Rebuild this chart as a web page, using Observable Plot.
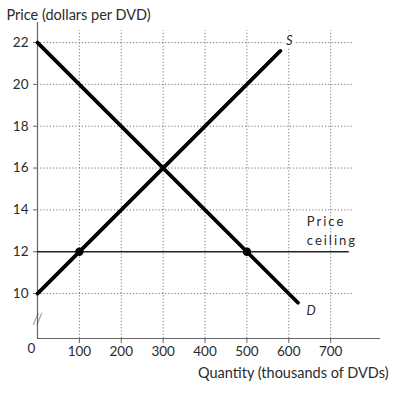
<!DOCTYPE html>
<html>
<head>
<meta charset="utf-8">
<script src="https://cdn.jsdelivr.net/npm/d3@7"></script>
<script src="https://cdn.jsdelivr.net/npm/@observablehq/plot@0.6"></script>
<style>
  html, body { margin: 0; padding: 0; background: #fff; }
  text[aria-label="ceiling-label"], [aria-label="ceiling-label"] text { letter-spacing: 2px; }
</style>
</head>
<body>
<div id="chart"></div>
<script>
// ---- data ----
const quantityTicks = [100, 200, 300, 400, 500, 600, 700];
const priceTicks = [10, 12, 14, 16, 18, 20, 22];
const gridPrices = [10, 14, 16, 18, 20, 22];
const supplyQ = [0, 580];
const supplyP = [10, 21.6];
const demandQ = [0, 622];
const demandP = [22, 9.56];
const ceilingPrice = 12;
const ceilingQ = [0, 742];
const shortageQ = [100, 500];
const yDomain = [7.85, 22.96];
const xDomain = [0, 819];
const gridTopPrice = 22.57;
const gridEndQ = 755;
const breakPrice = 8.8;

const supply = supplyQ.map((q, i) => ({q, p: supplyP[i]}));
const demand = demandQ.map((q, i) => ({q, p: demandP[i]}));
const ceiling = ceilingQ.map(q => ({q, p: ceilingPrice}));
const points = shortageQ.map(q => ({q, p: ceilingPrice}));

const dot = {stroke: "#7a7a7a", strokeWidth: 1, strokeDasharray: "1.2,2"};
const ink = "#2b2b2b";

const chart = Plot.plot({
  width: 399,
  height: 394,
  marginLeft: 37,
  marginRight: 19,
  marginTop: 22,
  marginBottom: 56,
  style: {fontFamily: "Lato, 'Open Sans', sans-serif", fontSize: "13px", color: ink, background: "#fff"},
  x: {domain: xDomain},
  y: {domain: yDomain},
  marks: [
    Plot.ruleY(gridPrices, {y: d => d, x1: 0, x2: gridEndQ, ...dot}),
    Plot.ruleX(quantityTicks, {x: d => d, y1: yDomain[0], y2: gridTopPrice, ...dot}),
    Plot.axisX({ticks: quantityTicks, tickSize: 5, tickPadding: 3, label: null, tickFormat: d => String(d), fontSize: 13.5, stroke: "#666", fill: ink}),
    Plot.axisY({ticks: priceTicks, tickSize: 4, tickPadding: 5, label: null, tickFormat: d => String(d), fontSize: 13.5, stroke: "#666", fill: ink}),
    Plot.ruleX([0], {y1: yDomain[0], y2: yDomain[1], stroke: "#666", strokeWidth: 1.2}),
    Plot.ruleY([yDomain[0]], {x1: 0, x2: xDomain[1], stroke: "#666", strokeWidth: 1.2}),
    Plot.text(["//"], {x: 0, y: breakPrice, text: d => d, fontSize: 16, fill: "#555", fontWeight: 300}),
    Plot.line(ceiling, {x: "q", y: "p", stroke: "#222", strokeWidth: 1.5}),
    Plot.line(supply, {x: "q", y: "p", stroke: "#000", strokeWidth: 3.8}),
    Plot.line(demand, {x: "q", y: "p", stroke: "#000", strokeWidth: 3.8}),
    Plot.dot(points, {x: "q", y: "p", r: 4.2, fill: "#000", stroke: "none"}),
    Plot.text(["S"], {x: supplyQ[1], y: supplyP[1], text: d => d, dx: 9, dy: -10, fontSize: 13, fontStyle: "italic", fill: ink, stroke: "#fff", strokeWidth: 5, paintOrder: "stroke"}),
    Plot.text(["D"], {x: demandQ[1], y: demandP[1], text: d => d, dx: 13, dy: 8, fontSize: 13, fontStyle: "italic", fill: ink}),
    Plot.text(["Price", "ceiling"], {x: 643, y: [13.44, 12.53], text: d => d, textAnchor: "start", fontSize: 13, fill: ink, ariaLabel: () => "ceiling-label"}),
    Plot.text(["0"], {frameAnchor: "bottom-left", text: d => d, dx: -10, dy: 14, fontSize: 13.5, fill: ink}),
    Plot.text(["Price (dollars per DVD)"], {frameAnchor: "top-left", text: d => d, textAnchor: "start", dx: -31, dy: -13, fontSize: 14.5, fill: ink}),
    Plot.text(["Quantity (thousands of DVDs)"], {frameAnchor: "bottom-right", text: d => d, textAnchor: "end", dx: 8, dy: 39, fontSize: 14.5, fill: ink})
  ]
});
document.getElementById("chart").append(chart);
</script>
</body>
</html>
